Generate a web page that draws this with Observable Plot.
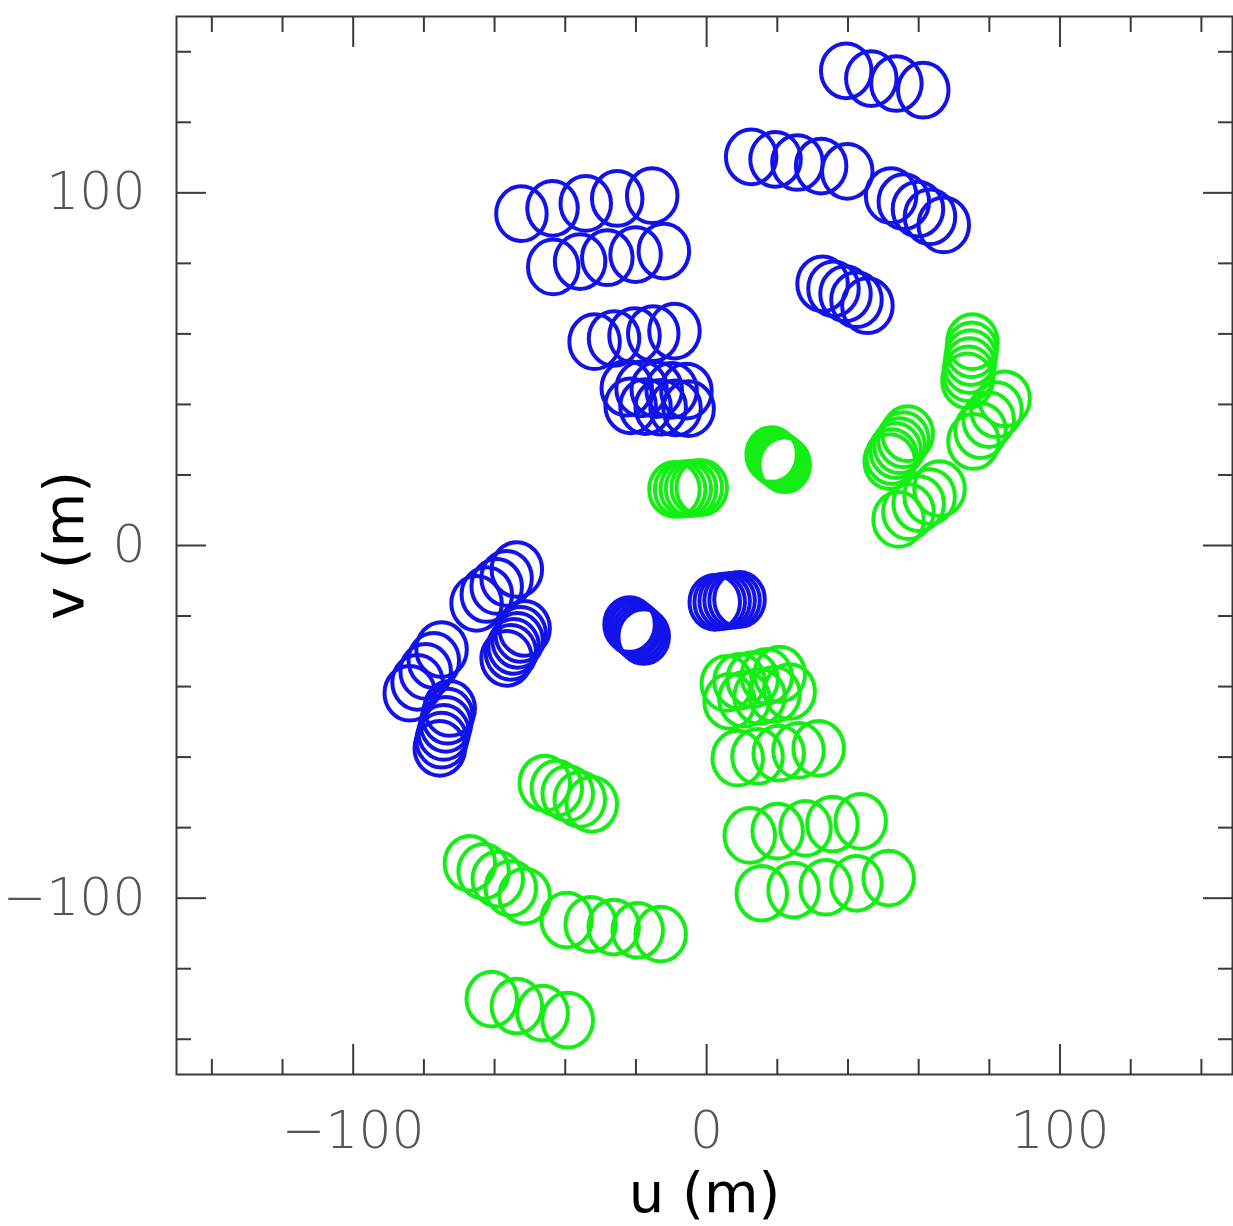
<!DOCTYPE html>
<html><head><meta charset="utf-8">
<script src="https://cdn.jsdelivr.net/npm/d3@7"></script>
<script src="https://cdn.jsdelivr.net/npm/@observablehq/plot@0.6"></script>
<style>html,body{margin:0;padding:0;background:#fff}#chart svg{display:block}</style>
</head><body><div id="chart"></div>
<script>
// Blue baselines (u, v in metres)
const blueU = [
  39.5, 46.6, 53.7, 61.3,
  12.6, 19.5, 25.7, 32.4, 39.8,
  52.2, 55.8, 59.8, 63.2, 67.1,
  -52.4, -43.6, -34.2, -25.3, -15.4,
  -43.4, -35.8, -28.1, -20.1, -12.1,
  -31.7, -26.2, -20.4, -15.1, -9.1,
  -22.6, -18.4, -14.1, -9.9, -5.7,
  -21.5, -17.3, -13.0, -8.8, -5.1,
  32.8, 35.9, 39.3, 42.4, 45.5,
  -53.7, -56.6, -59.4, -62.2, -65.1,
  -51.5, -52.6, -53.5, -54.6, -55.4, -56.6,
  -75.0, -77.2, -79.5, -81.8, -84.0,
  -72.7, -73.3, -73.8, -74.4, -75.0, -75.5,
  -21.8, -21.0, -20.2, -19.4, -18.6, -17.8,
  2.3, 3.7, 5.1, 6.5, 7.9, 9.3
];
const blueV = [
  134.6, 132.4, 131.0, 129.1,
  110.2, 109.5, 108.6, 107.6, 106.1,
  99.2, 97.5, 95.4, 93.2, 90.9,
  94.1, 95.6, 97.0, 98.4, 99.2,
  79.0, 80.5, 81.6, 82.5, 83.5,
  57.8, 58.7, 59.5, 60.1, 60.8,
  44.6, 44.4, 44.2, 44.0, 43.8,
  39.6, 39.4, 39.2, 39.0, 38.8,
  74.2, 72.8, 71.4, 69.7, 68.0,
  -6.8, -9.3, -11.6, -13.9, -16.4,
  -23.5, -25.2, -26.9, -28.6, -30.3, -32.0,
  -29.5, -32.6, -35.7, -38.8, -41.9,
  -46.2, -48.4, -50.7, -53.0, -55.2, -57.5,
  -22.4, -23.1, -23.7, -24.4, -25.1, -25.8,
  -16.1, -16.0, -15.8, -15.6, -15.5, -15.3
];
// Green baselines
const greenU = [
  -9.1, -7.5, -5.9, -4.4, -2.8, -1.4,
  18.4, 19.1, 19.9, 20.6, 21.3, 22.1,
  75.2, 75.0, 74.7, 74.4, 74.1, 73.8,
  84.3, 82.0, 79.8, 77.5, 75.5,
  56.9, 55.7, 54.6, 53.5, 52.4, 51.8,
  65.9, 63.1, 60.0, 57.1, 54.3,
  5.7, 9.3, 13.0, 17.0, 20.7,
  6.5, 10.7, 15.0, 19.2, 23.5,
  8.8, 14.4, 20.4, 26.0, 31.7,
  12.2, 20.1, 28.0, 35.6, 43.6,
  15.6, 24.6, 33.7, 42.4, 51.5,
  -45.8, -42.4, -39.3, -35.9, -32.5,
  -67.0, -63.1, -59.1, -55.4, -51.5,
  -39.6, -32.8, -26.3, -19.5, -13.0,
  -60.8, -53.7, -46.4, -39.3
];
const greenV = [
  15.9, 15.9, 16.1, 16.1, 16.4, 16.4,
  25.8, 25.2, 24.6, 24.1, 23.5, 22.9,
  57.8, 55.5, 53.3, 51.0, 48.7, 46.7,
  41.6, 38.5, 35.7, 32.6, 29.5,
  31.7, 30.0, 28.3, 26.9, 25.2, 23.8,
  16.1, 13.9, 11.9, 9.6, 7.4,
  -39.1, -38.5, -38.0, -37.1, -36.5,
  -44.2, -43.6, -42.8, -42.2, -41.4,
  -60.3, -59.8, -58.9, -58.1, -57.5,
  -82.2, -81.0, -80.2, -79.0, -78.2,
  -98.6, -97.7, -96.9, -95.8, -94.3,
  -67.4, -68.8, -70.3, -72.0, -73.4,
  -90.1, -92.4, -94.6, -97.2, -99.4,
  -106.2, -107.4, -108.2, -109.1, -110.2,
  -128.6, -130.6, -132.6, -134.6
];
const majorTicks = [-100, 0, 100];
const minorTicks = [-140, -120, -80, -60, -40, -20, 20, 40, 60, 80, 120, 140];
const tickLabels = ["\u2212100", "0", "100"];
const xLabel = "u (m)";
const yLabel = "v (m)";

const blue = blueU.map((u, i) => ({u, v: blueV[i]}));
const green = greenU.map((u, i) => ({u, v: greenV[i]}));

// slightly elongated ring symbol
const ring = {
  draw(ctx, size) {
    const r = Math.sqrt(size / Math.PI);
    const rx = r * 0.96, ry = r * 1.04, k = 0.5523;
    ctx.moveTo(rx, 0);
    ctx.bezierCurveTo(rx, k * ry, k * rx, ry, 0, ry);
    ctx.bezierCurveTo(-k * rx, ry, -rx, k * ry, -rx, 0);
    ctx.bezierCurveTo(-rx, -k * ry, -k * rx, -ry, 0, -ry);
    ctx.bezierCurveTo(k * rx, -ry, rx, -k * ry, rx, 0);
    ctx.closePath();
  }
};
const fmt = d => tickLabels[majorTicks.indexOf(d)];
const axisCol = "#3a3a3a";

const chart = Plot.plot({
  width: 1233, height: 1226,
  marginLeft: 176, marginRight: 1, marginTop: 16, marginBottom: 152,
  x: {domain: [-150, 148.8], label: null},
  y: {domain: [-150, 150], label: null},
  style: {background: "#fff", fontFamily: "'DejaVu Sans', sans-serif"},
  marks: [
    Plot.dot(blue, {x: "u", y: "v", r: 26.3, symbol: ring, stroke: "#1212ea", strokeWidth: 4, fill: "none"}),
    Plot.dot(green, {x: "u", y: "v", r: 26.3, symbol: ring, stroke: "#14ee14", strokeWidth: 4, fill: "none"}),
    Plot.frame({stroke: axisCol, strokeWidth: 2}),
    Plot.axisX({anchor: "bottom", ticks: minorTicks, tickSize: -15, tickFormat: () => "", stroke: axisCol, strokeWidth: 2, label: null}),
    Plot.axisX({anchor: "top", ticks: minorTicks, tickSize: -15, tickFormat: () => "", stroke: axisCol, strokeWidth: 2, label: null}),
    Plot.axisX({anchor: "top", ticks: majorTicks, tickSize: -30, tickFormat: () => "", stroke: axisCol, strokeWidth: 2, label: null}),
    Plot.axisX({anchor: "bottom", ticks: majorTicks, tickSize: -30, tickFormat: () => "", stroke: axisCol, strokeWidth: 2, label: null}),
    Plot.axisY({anchor: "left", ticks: minorTicks, tickSize: -15, tickFormat: () => "", stroke: axisCol, strokeWidth: 2, label: null}),
    Plot.axisY({anchor: "right", ticks: minorTicks, tickSize: -15, tickFormat: () => "", stroke: axisCol, strokeWidth: 2, label: null}),
    Plot.axisY({anchor: "left", ticks: majorTicks, tickSize: -30, tickFormat: () => "", stroke: axisCol, strokeWidth: 2, label: null}),
    Plot.axisY({anchor: "right", ticks: majorTicks, tickSize: -30, tickFormat: () => "", stroke: axisCol, strokeWidth: 2, label: null}),
    Plot.axisX({anchor: "bottom", ticks: majorTicks, tickSize: 0, tickPadding: 37, tickFormat: fmt, fontSize: 52, fill: "#555", fontWeight: 200, label: null}),
    Plot.axisY({anchor: "left", ticks: majorTicks, tickSize: 0, tickPadding: 31, tickFormat: fmt, fontSize: 52, fill: "#555", fontWeight: 200, label: null}),
    Plot.text([xLabel], {frameAnchor: "bottom", dy: 120, textAnchor: "middle", lineAnchor: "middle", fontSize: 56, fill: "#000", text: d => d}),
    Plot.text([yLabel], {frameAnchor: "left", dx: -111, rotate: -90, textAnchor: "middle", lineAnchor: "middle", fontSize: 56, fill: "#000", text: d => d})
  ]
});
document.getElementById("chart").appendChild(chart);
</script>
</body></html>
